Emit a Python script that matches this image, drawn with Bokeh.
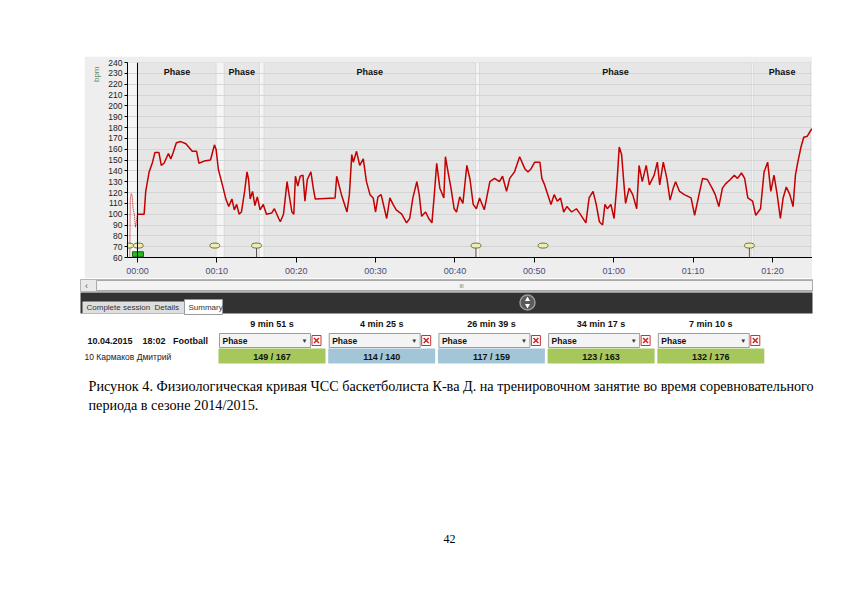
import math
from bokeh.plotting import figure
from bokeh.models import Range1d, FixedTicker, Span, Spacer
from bokeh.layouts import column, row
from bokeh.embed import file_html
from bokeh.resources import INLINE
from bokeh.core.properties import value

# ---------------- data ----------------
hr_minutes = [0.0, 0.84, 1.04, 1.47, 1.9, 2.2, 2.7, 3.0, 3.35, 3.9, 4.2, 4.5, 4.9, 5.45, 6.1, 6.9, 7.45,
              7.75, 8.4, 9.2, 9.7, 9.9, 10.2, 10.7, 11.1, 11.5, 11.9, 12.2, 12.5, 12.8, 13.1, 13.5, 13.8,
              14.0, 14.2, 14.5, 14.8, 15.1, 15.45, 15.85, 16.25, 16.9, 17.25, 17.8, 18.0, 18.4, 18.85,
              19.1, 19.46, 19.7, 19.9, 20.2, 20.5, 20.85, 21.1, 21.4, 21.85, 22.15, 22.4, 24.9, 25.1,
              25.7, 26.4, 26.7, 27.0, 27.2, 27.6, 28.0, 28.45, 28.85, 29.3, 29.7, 30.0, 30.3, 30.7, 31.4,
              31.8, 32.2, 32.6, 33.3, 33.9, 34.3, 34.7, 35.2, 35.5, 35.8, 36.3, 36.7, 37.1, 37.4, 37.7,
              38.1, 38.6, 38.8, 39.2, 39.5, 39.9, 40.2, 40.6, 41.0, 41.5, 41.9, 42.3, 42.7, 43.1, 43.7,
              44.4, 45.0, 45.6, 46.0, 46.5, 46.9, 47.5, 48.15, 48.8, 49.2, 49.6, 50.05, 50.7, 50.95,
              51.3, 51.7, 52.1, 52.5, 52.9, 53.3, 53.7, 54.1, 54.7, 55.3, 55.7, 56.5, 56.9, 57.4, 57.8,
              58.2, 58.6, 58.9, 59.2, 59.65, 60.05, 60.4, 60.7, 61.0, 61.3, 61.5, 61.95, 62.4, 62.9,
              63.2, 63.6, 64.1, 64.5, 65.1, 65.5, 65.8, 66.25, 66.7, 67.1, 67.5, 67.8, 68.3, 68.9,
              69.75, 70.2, 70.75, 71.2, 71.8, 72.4, 72.8, 73.25, 73.7, 74.1, 74.7, 75.2, 75.6, 76.1,
              76.5, 76.9, 77.5, 77.9, 78.5, 78.95, 79.4, 79.8, 80.2, 80.6, 81.0, 81.35, 81.75, 82.2,
              82.6, 82.9, 83.2, 83.6, 83.95, 84.4, 84.8, 85.0]
hr_bpm = [100, 100, 121, 139, 148, 157, 157, 145, 147, 156, 151, 157, 166, 167, 165, 158, 158,
          147, 149, 150, 164, 160, 141, 127, 115, 107, 114, 104, 109, 100, 102, 121, 139,
          132, 114, 121, 108, 116, 104, 109, 100, 101, 105, 96, 93, 100, 130,
          118, 102, 100, 135, 126, 135, 136, 112, 132, 139, 124, 114, 115, 135,
          118, 102, 118, 155, 148, 158, 145, 151, 130, 118, 115, 102, 116, 118, 96,
          115, 109, 104, 100, 92, 96, 115, 130, 118, 98, 102, 96, 92, 118, 147,
          124, 115, 153, 136, 124, 105, 102, 116, 110, 145, 132, 109, 105, 115, 104,
          130, 133, 130, 135, 121, 133, 139, 153, 142, 139, 142, 148, 148, 133,
          127, 118, 109, 118, 112, 115, 102, 107, 102, 105, 101, 92, 115, 121, 109,
          93, 90, 109, 105, 109, 96, 127, 162, 155, 127, 110, 124, 118, 105,
          145, 130, 145, 127, 136, 148, 127, 148, 133, 113, 124, 130, 121, 118,
          115, 99, 118, 133, 132, 124, 118, 107, 124, 128, 132, 136, 133, 138,
          133, 115, 112, 99, 105, 139, 148, 121, 136, 118, 96, 115, 125, 118,
          107, 136, 148, 162, 171, 172, 177, 179]

pre_minutes = [-0.97, -0.9, -0.8, -0.67, -0.55, -0.4, -0.25, -0.13, 0.0]
pre_bpm = [60, 114, 119, 117, 105, 100, 88, 93, 100]

phase_names = ["Phase", "Phase", "Phase", "Phase", "Phase"]
phase_start = [0.05, 10.93, 15.95, 43.1, 77.64]
phase_seconds = [591, 265, 1599, 2057, 430]
phase_avg = [149, 114, 117, 123, 132]
phase_max = [167, 140, 159, 163, 176]
phase_zone = ["green", "blue", "blue", "green", "green"]

marker_minutes = [-1.1, 0.1, 9.75, 15.0, 42.65, 51.1, 77.1]
marker_stem = [False, False, False, True, True, False, True]
start_marker_minutes = [0.06]

time_ticks = [0, 10, 20, 30, 40, 50, 60, 70, 80]
bpm_ticks = list(range(60, 250, 10))

session_label = "10.04.2015\u00a0\u00a0\u00a0\u00a018:02\u00a0\u00a0\u00a0Football"
athlete_label = "10 Кармаков Дмитрий"
tab_labels = ["Complete session", "Details", "Summary"]
caption_lines = [
    "Рисунок 4. Физиологическая кривая ЧСС баскетболиста К-ва Д. на тренировочном занятие во время соревновательного",
    "периода в сезоне 2014/2015.",
]
page_number = "42"

# ---------------- styles ----------------
UI_FONT = value("Liberation Sans")
SERIF = value("Liberation Serif")
ZONE_COLORS = {"green": "#a6c75c", "blue": "#a2c6d8"}
PX_PER_MIN = 7.96

phase_end = [s + d / 60.0 for s, d in zip(phase_start, phase_seconds)]
phase_mid = [(s + e) / 2 for s, e in zip(phase_start, phase_end)]

# ---------------- chart figure ----------------
CH_W, CH_H = 728, 222
BL, BR, BT, BB = 41, 0, 6, 20
x0 = -10 / PX_PER_MIN
x1 = x0 + (CH_W - BL - BR) / PX_PER_MIN

p = figure(width=CH_W, height=CH_H, x_range=Range1d(x0, x1), y_range=Range1d(60, 240),
           output_backend="svg", toolbar_location=None, title="bpm", title_location="left",
           min_border_left=BL, min_border_right=BR, min_border_top=BT, min_border_bottom=BB)
p.title.align = "right"
p.title.text_font = "Liberation Sans"
p.title.text_font_size = "8px"
p.title.text_font_style = "normal"
p.title.text_color = "#5f8a5f"
p.title.offset = 4
p.background_fill_color = "#f5f5f5"
p.border_fill_color = "#eeeeee"
p.outline_line_color = None
p.xgrid.visible = False
p.ygrid.visible = False

p.quad(left=phase_start, right=phase_end, bottom=60, top=240, fill_color="#e6e6e6",
       line_color="#dadada", line_width=1)
p.hspan(y=bpm_ticks, line_color="#d5d5d5", line_width=1)

p.text(x=phase_mid, y=[240] * 5, text=phase_names, text_align="center", text_baseline="middle",
       y_offset=9, text_font=UI_FONT, text_font_size="9px", text_font_style="bold", text_color="#111111")

p.add_layout(Span(location=0, dimension="height", line_color="#000000", line_width=1))

p.line(pre_minutes, pre_bpm, line_color="#cc0000", line_width=1, line_dash="1 1")
p.line(hr_minutes, hr_bpm, line_color="#c40000", line_width=1.5)

stem_x = [m for m, s in zip(marker_minutes, marker_stem) if s]
p.segment(x0=stem_x, y0=[60] * len(stem_x), x1=stem_x, y1=[69] * len(stem_x),
          line_color="#555555", line_width=1)
p.ellipse(x=marker_minutes, y=[71] * len(marker_minutes), width=10, height=5,
          width_units="screen", height_units="screen", fill_color="#eeeeb4", line_color="#6e6e40")
p.rect(x=start_marker_minutes, y=[63], width=11, height=5, width_units="screen", height_units="screen",
       fill_color="#22bb22", line_color="#116611")

p.xaxis.ticker = FixedTicker(ticks=time_ticks)
p.xaxis.major_label_overrides = {t: "%02d:%02d" % divmod(t, 60) for t in time_ticks}
p.xaxis.minor_tick_line_color = None
p.xaxis.major_tick_out = 5
p.xaxis.major_tick_in = 0
p.xaxis.axis_line_color = "#000000"
p.xaxis.major_tick_line_color = "#000000"
p.xaxis.major_label_standoff = 3
p.xaxis.major_label_text_font = "Liberation Sans"
p.xaxis.major_label_text_font_size = "9px"
p.xaxis.major_label_text_color = "#4a4a7c"

p.yaxis.ticker = FixedTicker(ticks=bpm_ticks)
p.yaxis.minor_tick_line_color = None
p.yaxis.major_tick_out = 3
p.yaxis.major_tick_in = 0
p.yaxis.axis_line_color = "#000000"
p.yaxis.major_tick_line_color = "#000000"
p.yaxis.major_label_standoff = 2
p.yaxis.major_label_text_font = "Liberation Sans"
p.yaxis.major_label_text_font_size = "8.5px"
p.yaxis.major_label_text_color = "#222222"

# ---------------- lower panel (page pixel coordinates) ----------------
LW, LH = 834, 314
Y_TOP = 278
q = figure(width=LW, height=LH, x_range=Range1d(0, LW), y_range=Range1d(Y_TOP + LH, Y_TOP),
           output_backend="svg", toolbar_location=None, title=None,
           x_axis_location=None, y_axis_location=None,
           min_border_left=0, min_border_right=0, min_border_top=0, min_border_bottom=0)
q.outline_line_color = None
q.background_fill_color = "#ffffff"
q.border_fill_color = "#ffffff"
q.xgrid.visible = False
q.ygrid.visible = False

TXT = dict(text_font=UI_FONT, text_baseline="middle")

# scrollbar
q.quad(left=[80], right=[812], top=[279], bottom=[291], fill_color="#e9e9e9", line_color="#b5b5b5")
q.quad(left=[96], right=[812], top=[280], bottom=[290], fill_color="#f3f3f3", line_color="#a9a9a9")
q.text(x=[86], y=[285], text=["‹"], text_align="center", text_font_size="9px", text_color="#555555", **TXT)
q.text(x=[461], y=[285], text=["III"], text_align="center", text_font_size="5px", text_color="#666666", **TXT)

# dark bar with tabs and toggle button
q.quad(left=[80], right=[812], top=[292], bottom=[313], fill_color="#323232", line_color=None)
q.quad(left=[82], right=[184], top=[301], bottom=[313], fill_color="#dedede", line_color=None)
q.quad(left=[184], right=[222], top=[299], bottom=[314], fill_color="#ffffff", line_color="#9a9a9a")
q.text(x=[86, 154, 188], y=[307, 307, 307], text=tab_labels, text_align="left", text_font_size="8px",
       text_color="#333333", **TXT)
q.scatter(x=[527], y=[302], size=15, marker="circle", fill_color="#5a5a5a", line_color="#9a9a9a", line_width=1.5)
q.scatter(x=[527], y=[299], size=5, marker="triangle", fill_color="#ffffff", line_color=None)
q.scatter(x=[527], y=[305], size=5, marker="inverted_triangle", fill_color="#ffffff", line_color=None)

# table
COL_X0, COL_STEP, COL_W = 218, 109.7, 107
col_left = [COL_X0 + i * COL_STEP for i in range(len(phase_seconds))]
col_mid = [c + COL_W / 2 for c in col_left]
dur_text = ["%d min %d s" % divmod(s, 60) for s in phase_seconds]
q.text(x=col_mid, y=[323] * 5, text=dur_text, text_align="center", text_font_size="9px",
       text_font_style="bold", text_color="#111111", **TXT)

q.text(x=[87], y=[340], text=[session_label], text_align="left", text_font_size="9px",
       text_font_style="bold", text_color="#111111", **TXT)
q.quad(left=[c + 1 for c in col_left], right=[c + 92 for c in col_left], top=[333] * 5, bottom=[347] * 5,
       fill_color="#f4f4f4", line_color="#9c9c9c")
q.text(x=[c + 4 for c in col_left], y=[340] * 5, text=phase_names, text_align="left", text_font_size="8.5px",
       text_font_style="bold", text_color="#111111", **TXT)
q.text(x=[c + 86 for c in col_left], y=[340] * 5, text=["▼"] * 5, text_align="center", text_font_size="6px",
       text_color="#333333", **TXT)
q.rect(x=[c + 98 for c in col_left], y=[340] * 5, width=9, height=10, fill_color="#ffffff", line_color="#cc3333")
q.scatter(x=[c + 98 for c in col_left], y=[340] * 5, size=7, marker="x", line_color="#d42020", line_width=1.5)

q.text(x=[84], y=[356], text=[athlete_label], text_align="left", text_font_size="8.5px",
       text_color="#222222", **TXT)
q.quad(left=col_left, right=[c + COL_W for c in col_left], top=[348] * 5, bottom=[363] * 5,
       fill_color=[ZONE_COLORS[z] for z in phase_zone], line_color=None)
q.text(x=col_mid, y=[356] * 5, text=["%d / %d" % (a, m) for a, m in zip(phase_avg, phase_max)],
       text_align="center", text_font_size="9px", text_font_style="bold", text_color="#111111", **TXT)

# caption and page number
q.text(x=[88, 88], y=[385, 404], text=caption_lines, text_align="left", text_baseline="middle",
       text_font=SERIF, text_font_size="14.2px", text_color="#000000")
q.text(x=[449], y=[538], text=[page_number], text_align="center", text_baseline="middle",
       text_font=SERIF, text_font_size="12px", text_color="#000000")

layout = column(Spacer(width=834, height=56),
                row(Spacer(width=84, height=CH_H), p),
                q)

open("out.html", "w").write(file_html(layout, INLINE))
